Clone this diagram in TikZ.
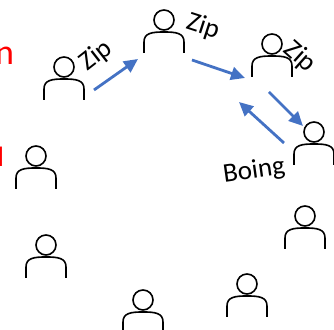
\documentclass[tikz,border=0pt]{standalone}
\usepackage{fontspec}
\setmainfont{Carlito}
\usetikzlibrary{arrows.meta}

\tikzset{
  person/.pic={
    \draw[line width=0.8pt] (0,0) circle (10);
    \draw[line width=0.8pt] (-20,33) -- (-20,22) .. controls (-20,13) and (-12,12) .. (0,12)
      .. controls (12,12) and (20,13) .. (20,22) -- (20,33);
  },
  flow/.style={draw={rgb,255:red,68;green,114;blue,196}, line width=1.4pt,
    -{Triangle[length=7pt,width=6.5pt]}},
  word/.style={font=\fontsize{13.5pt}{16pt}\selectfont, inner sep=0pt},
  redword/.style={font=\fontsize{18pt}{21pt}\selectfont, text=red, inner sep=0pt}
}

\begin{document}
\begin{tikzpicture}[x=0.5pt,y=-0.5pt]
            \useasboundingbox (0,0) rectangle (334,330);

            % 人物位置
            \coordinate (P1) at (64,67);
            \coordinate (P2) at (164,20);
            \coordinate (P3) at (272,44);
            \coordinate (P4) at (314,132);
            \coordinate (P5) at (36,156);
            \coordinate (P6) at (46,245);
            \coordinate (P7) at (143,300);
            \coordinate (P8) at (247,284);
            \coordinate (P9) at (305,216);

            % 画人物
            \foreach \p in {P1,P2,P3,P4,P5,P6,P7,P8,P9}
                \pic at (\p) {person};

            % 箭头端点
            \coordinate (A1) at (94,90);
            \coordinate (B1) at (138,59);
            \coordinate (A2) at (192,60);
            \coordinate (B2) at (245,78);
            \coordinate (A3) at (269,92);
            \coordinate (B3) at (303,126);
            \coordinate (A4) at (284,143);
            \coordinate (B4) at (239,102);

            \draw[flow] (A1) -- (B1);
            \draw[flow] (A2) -- (B2);
            \draw[flow] (A3) -- (B3);
            \draw[flow] (A4) -- (B4);

            % 标注
            \node[word, rotate=38] (zipa) at (96,56) {Zip};
            \node[word, rotate=-18] (zipb) at (203,27) {Zip};
            \node[word, rotate=-42] (zipc) at (300,57) {Zip};
            \node[word, rotate=8] (boing) at (254,171) {Boing};

            % 左边红字 (被裁掉)
            \node[redword, anchor=base east] (redn) at (14.5,65) {n};
            \node[redword, font=\fontsize{14pt}{16pt}\selectfont, anchor=base east] (redl) at (4.5,167) {l};
        \end{tikzpicture}
\end{document}
